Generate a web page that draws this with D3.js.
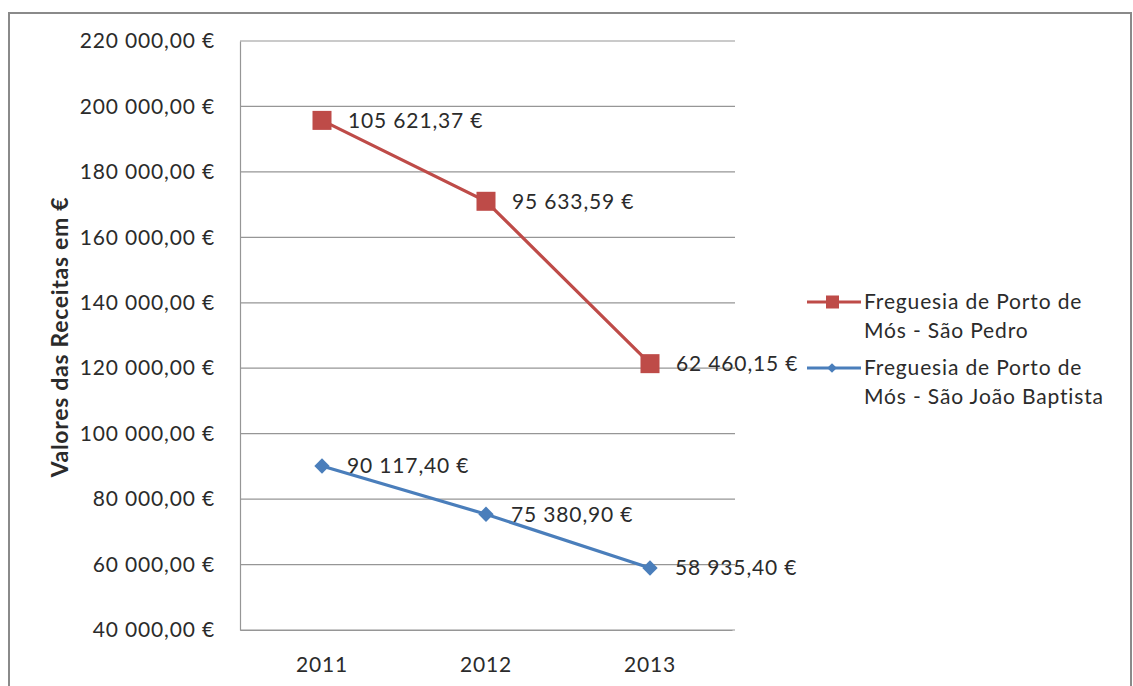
<!DOCTYPE html>
<html><head><meta charset="utf-8">
<script src="https://cdn.jsdelivr.net/npm/d3@7"></script>
<style>
body{margin:0;background:#fff;}
text{font-family:Lato,"Liberation Sans",sans-serif;fill:#2b2b2b;}
.lbl{font-size:21px;letter-spacing:0.85px;}
</style></head>
<body><svg id="c" width="1133" height="686"></svg>
<script>
const years = ["2011","2012","2013"];
const saoPedro = [105621.37, 95633.59, 62460.15];
const saoJoao = [90117.40, 75380.90, 58935.40];
const seriesNames = ["Freguesia de Porto de Mós - São Pedro","Freguesia de Porto de Mós - São João Baptista"];
const legendLines = [["Freguesia de Porto de","Mós - São Pedro"],["Freguesia de Porto de","Mós - São João Baptista"]];
const yTicks = [40000,60000,80000,100000,120000,140000,160000,180000,200000,220000];
const yTitle = "Valores das Receitas em €";

(function(){
const svg = d3.select("#c");
// frame
svg.append("rect").attr("x",9).attr("y",13).attr("width",1122).attr("height",700)
  .attr("fill","#fff").attr("stroke","#8a8a8a").attr("stroke-width",2);

const pl=240, pr=732, pt=41, pb=630;
const x = d3.scaleBand().domain(years).range([pl,pr]);
const y = d3.scaleLinear().domain([40000,220000]).range([pb,pt]);

function fmt(v){
  const s = d3.format(",.2f")(v);
  return s.replace(/,/g," ").replace(".",",")+" €";
}

// gridlines
svg.append("g").selectAll("line").data(yTicks).join("line")
  .attr("x1",pl).attr("x2",pr+3).attr("y1",d=>y(d)).attr("y2",d=>y(d))
  .attr("stroke","#969696").attr("stroke-width",1.2);

// y axis
const ya = svg.append("g").attr("transform",`translate(${pl},0)`)
  .call(d3.axisLeft(y).tickValues(yTicks).tickFormat(fmt).tickSize(0).tickPadding(25));
ya.select(".domain").attr("stroke","#969696").attr("stroke-width",1.2);
ya.selectAll("text").attr("class","lbl").attr("font-size",null).attr("font-family",null).attr("fill","#2b2b2b");

// x axis
const xa = svg.append("g").attr("transform",`translate(0,${pb})`)
  .call(d3.axisBottom(x).tickSize(0).tickPadding(27));
xa.select(".domain").attr("stroke","#969696").attr("stroke-width",1.2);
xa.selectAll("text").attr("class","lbl").attr("fill","#2b2b2b");
svg.selectAll(".tick text").style("font-family","Lato,sans-serif");

// y title
svg.append("text").attr("transform","translate(68,337) rotate(-90)")
  .attr("text-anchor","middle").style("font-size","23px").style("font-weight","bold")
  .style("letter-spacing","0.7px").attr("fill","#262626").text(yTitle);

const cx = d=>x(d)+x.bandwidth()/2;
const redCol="#BE4B48", blueCol="#4A7EBB";
const stacked = saoPedro.map((v,i)=>v+saoJoao[i]);

const line = d3.line().x((d,i)=>cx(years[i])).y(d=>y(d));
svg.append("path").datum(saoJoao).attr("d",line).attr("fill","none")
  .attr("stroke",blueCol).attr("stroke-width",3.2);
svg.append("path").datum(stacked).attr("d",line).attr("fill","none")
  .attr("stroke",redCol).attr("stroke-width",3.2);

// markers
svg.append("g").selectAll("rect").data(stacked).join("rect")
  .attr("x",(d,i)=>cx(years[i])-9.5).attr("y",d=>y(d)-9.5).attr("width",19).attr("height",19)
  .attr("fill",redCol);
svg.append("g").selectAll("path").data(saoJoao).join("path")
  .attr("d",d3.symbol().type(d3.symbolDiamond2).size(150))
  .attr("transform",(d,i)=>`translate(${cx(years[i])},${y(d)})`)
  .attr("fill",blueCol);

// data labels
svg.append("g").selectAll("text").data(saoPedro).join("text").attr("class","lbl")
  .attr("x",(d,i)=>cx(years[i])+26).attr("y",(d,i)=>y(stacked[i]))
  .attr("dy","0.35em").text(fmt);
svg.append("g").selectAll("text").data(saoJoao).join("text").attr("class","lbl")
  .attr("x",(d,i)=>cx(years[i])+25).attr("y",d=>y(d))
  .attr("dy","0.35em").text(fmt);

// legend
const lg = svg.append("g");
const legY=[302,368];
const legCols=[redCol,blueCol];
legendLines.forEach((lines,i)=>{
  lg.append("line").attr("x1",807).attr("x2",861).attr("y1",legY[i]).attr("y2",legY[i])
    .attr("stroke",legCols[i]).attr("stroke-width",3.2);
  if(i===0){
    lg.append("rect").attr("x",826).attr("y",legY[i]-6.5).attr("width",13).attr("height",13).attr("fill",redCol);
  } else {
    lg.append("path").attr("d",d3.symbol().type(d3.symbolDiamond2).size(60))
      .attr("transform",`translate(832,${legY[i]})`).attr("fill",blueCol);
  }
  lines.forEach((t,j)=>{
    lg.append("text").attr("class","lbl").attr("x",864).attr("y",legY[i]+j*29).attr("dy","0.35em")
      .text(t);
  });
});
})();
</script></body></html>
